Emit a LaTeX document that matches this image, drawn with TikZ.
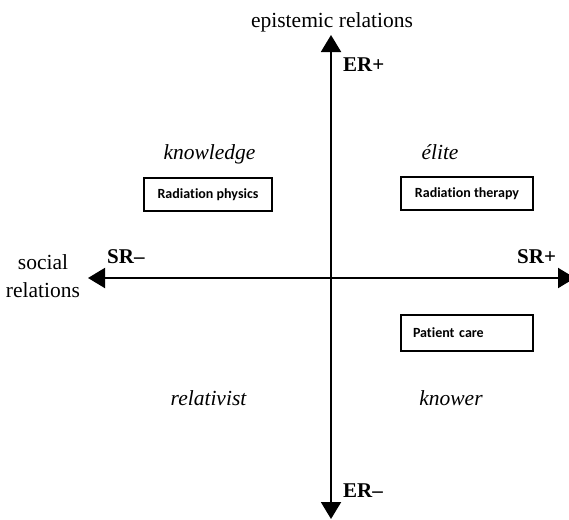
\documentclass[tikz,border=0pt]{standalone}
\usepackage{fontspec}
\setmainfont{Liberation Serif}
\newfontfamily\boxfont[Ligatures=NoCommon]{Carlito}
\usetikzlibrary{arrows.meta}

\begin{document}
\begin{tikzpicture}[x=1pt, y=-1pt,
  tip/.tip={Triangle[length=17pt, width=20pt]},
  axis/.style={line width=2pt},
  axisname/.style={font=\fontsize{21.5}{28}\selectfont, inner sep=0pt, anchor=base, align=center},
  pole/.style={font=\fontsize{21}{25}\selectfont\bfseries, inner sep=0pt, anchor=base west},
  quadrant/.style={font=\fontsize{21.5}{26}\selectfont\itshape, inner sep=0pt, anchor=base},
  field/.style={draw, line width=1.2pt, font=\boxfont\fontsize{14}{17}\selectfont\bfseries,
    minimum height=33pt, inner sep=0pt}
]
\useasboundingbox (0,0) rectangle (569,519);
\clip (0,0) rectangle (569,519);

% axes
\coordinate (top) at (331,35);
\coordinate (bottom) at (331,519);
\coordinate (left) at (88,278);
\coordinate (right) at (575,278);
\draw[axis, tip-tip] (bottom) -- (top);
\draw[axis, tip-tip] (left) -- (right);

% axis names
\node[axisname] (er) at (332,28) {epistemic relations};
\node[axisname, anchor=north] (sr) at (43,254) {social\\relations};

% poles
\node[pole] (erplus) at (343,71) {ER+};
\node[pole] (erminus) at (343,497) {ER\textendash};
\node[pole] (srminus) at (107,263) {SR\textendash};
\node[pole] (srplus) at (517,263) {SR+};

% quadrant codes
\node[quadrant] (knowledge) at (209.5,159) {knowledge};
\node[quadrant] (elite) at (440,159) {élite};
\node[quadrant] (relativist) at (208.5,405) {relativist};
\node[quadrant] (knower) at (451,405) {knower};

% fields placed on the plane
\node[field, minimum width=128pt] (physics) at (208,194.5) {Radiation physics};
\node[field, minimum width=132pt] (therapy) at (467,193.5) {Radiation therapy};
\node[field, minimum height=36pt, text width=108pt, align=left, inner xsep=12pt] (care) at (467,333) {Patient care};
\end{tikzpicture}
\end{document}
